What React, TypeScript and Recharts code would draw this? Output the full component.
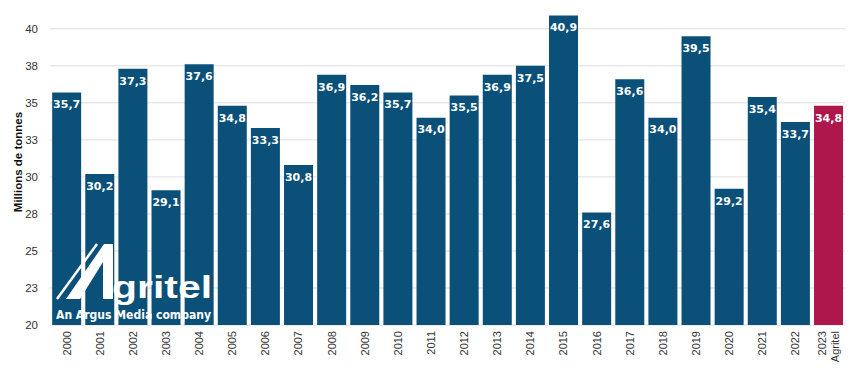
import { BarChart, Bar, XAxis, YAxis, CartesianGrid, Cell, LabelList } from "recharts";

const years = [
  "2000", "2001", "2002", "2003", "2004", "2005", "2006", "2007", "2008", "2009", "2010", "2011",
  "2012", "2013", "2014", "2015", "2016", "2017", "2018", "2019", "2020", "2021", "2022", "2023\nAgritel",
];
const production = [
  35.7, 30.2, 37.3, 29.1, 37.6, 34.8, 33.3, 30.8, 36.9, 36.2, 35.7, 34.0,
  35.5, 36.9, 37.5, 40.9, 27.6, 36.6, 34.0, 39.5, 29.2, 35.4, 33.7, 34.8,
];
const yTicks = [20, 22.5, 25, 27.5, 30, 32.5, 35, 37.5, 40];

const data = years.map((year, i) => ({ year, value: production[i] }));

const BLUE = "#0a5078";
const RED = "#ae174c";
const AXIS_FONT = "'Liberation Sans', Arial, sans-serif";

function YearTick({ x, y, payload }: any) {
  const lines = String(payload.value).split("\n");
  const step = 13;
  return (
    <g transform={`translate(${x},${y - 2}) rotate(-90)`}>
      {lines.map((line, i) => (
        <text
          key={line}
          x={0}
          y={0}
          dy={(i - (lines.length - 1) / 2) * step + 4}
          textAnchor="end"
          fill="#333"
          fontSize={11}
          fontFamily={AXIS_FONT}
        >
          {line}
        </text>
      ))}
    </g>
  );
}

function AgritelLogo() {
  return (
    <svg
      width={850}
      height={368}
      style={{ position: "absolute", left: 0, top: 0, pointerEvents: "none" }}
    >
      <line x1={57} y1={299} x2={97} y2={244} stroke="#fff" strokeWidth={2.5} />
      <polygon points="66,299 104,244 113,244 113,299 103,299 103,262 80,299" fill="#fff" />
      <text
        x={112}
        y={298}
        fill="#fff"
        fontSize={31}
        fontWeight={700}
        fontFamily="'Liberation Sans', Arial, sans-serif"
        textLength={100}
        lengthAdjust="spacingAndGlyphs"
      >
        gritel
      </text>
      <text
        x={56}
        y={319}
        fill="#fff"
        fontSize={12.5}
        fontWeight={700}
        fontFamily="'DejaVu Sans', Verdana, sans-serif"
        textLength={155}
        lengthAdjust="spacingAndGlyphs"
      >
        An Argus Media company
      </text>
    </svg>
  );
}

export default function App() {
  return (
    <div style={{ position: "absolute", left: 0, top: 0, width: 850, height: 368, background: "#fff" }}>
      <BarChart
        width={850}
        height={368}
        data={data}
        margin={{ top: 14, right: 5, bottom: 0, left: 0 }}
        barCategoryGap="6.5%"
      >
        <CartesianGrid vertical={false} stroke="#dedede" strokeWidth={1} horizontalValues={yTicks} />
        <XAxis
          dataKey="year"
          interval={0}
          height={43}
          axisLine={false}
          tickLine={false}
          tick={<YearTick />}
        />
        <YAxis
          width={50}
          domain={[20, 41]}
          ticks={yTicks}
          allowDataOverflow
          axisLine={false}
          tickLine={false}
          tickMargin={6}
          tickFormatter={(v: number) => String(Math.round(v))}
          tick={{ fill: "#333", fontSize: 11.5, fontFamily: AXIS_FONT }}
          label={{
            content: () => (
              <text
                transform="translate(22,162) rotate(-90)"
                textAnchor="middle"
                fill="#111"
                fontSize={11.5}
                fontWeight={700}
                fontFamily={AXIS_FONT}
              >
                Millions de tonnes
              </text>
            ),
          }}
        />
        <Bar dataKey="value" isAnimationActive={false}>
          {data.map((d, i) => (
            <Cell key={d.year} fill={i === data.length - 1 ? RED : BLUE} />
          ))}
          <LabelList
            dataKey="value"
            position="insideTop"
            offset={8}
            fill="#fff"
            fontSize={11}
            fontWeight={700}
            fontFamily="'DejaVu Sans', Verdana, sans-serif"
            formatter={(v: any) => Number(v).toFixed(1).replace(".", ",")}
          />
        </Bar>
      </BarChart>
      <AgritelLogo />
    </div>
  );
}
